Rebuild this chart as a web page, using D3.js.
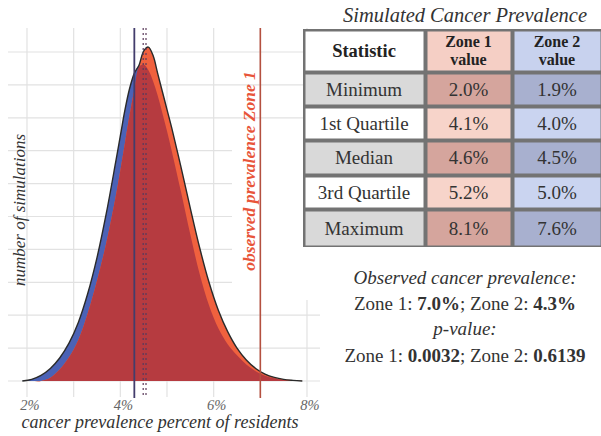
<!DOCTYPE html>
<html><head><meta charset="utf-8">
<script src="https://cdn.jsdelivr.net/npm/d3@7"></script>
<style>
html,body{margin:0;padding:0;background:#fff;}
svg{display:block;font-family:"Liberation Serif","Times New Roman","DejaVu Serif",serif;}
</style></head>
<body><svg id="c" width="601" height="436"></svg>
<script>
// ---------- data ----------
const prevalence = [1.9,2.1,2.3,2.5,2.7,2.9,3.1,3.3,3.5,3.7,3.9,4.0,4.1,4.2,4.3,4.4,4.5,4.6,4.7,4.8,4.9,5.0,5.1,5.3,5.5,5.7,5.9,6.1,6.3,6.5,6.7,6.9,7.1,7.3,7.5,7.7,7.9];
const zone2Counts = [0,5,17,38,70,115,178,265,375,510,665,745,825,890,935,960,962,945,912,868,815,760,700,575,445,325,230,160,112,78,50,30,16,8,3,1,0];
const zone1Counts = [0,0,0,10,35,72,125,205,305,420,560,640,725,810,885,955,1003,1015,990,935,880,825,770,650,525,405,300,215,150,100,64,38,21,11,5,2,0];
const observedPrevalence = {zone1: 7.0, zone2: 4.3};
const simulatedCentres = [4.49, 4.55];
const xGrid = [2,3,4,5,6,7,8];
const xTickValues = [2,4,6,8];
const yGrid = [0,100,200,300,400,500,600,700,800,900,1000];
const statNames = ["Minimum","1st Quartile","Median","3rd Quartile","Maximum"];
const zone1Stats = ["2.0%","4.1%","4.6%","5.2%","8.1%"];
const zone2Stats = ["1.9%","4.0%","4.5%","5.0%","7.6%"];
const pValues = ["0.0032","0.6139"];

// ---------- chart ----------
const svg = d3.select("#c");
const x = d3.scaleLinear().domain([2,8]).range([27,307]);
const y = d3.scaleLinear().domain([0,1073]).range([381,28]);

const grid = svg.append("g");
grid.selectAll("line.h").data(yGrid).join("line")
  .attr("x1",8).attr("x2",320).attr("y1",d=>y(d)).attr("y2",d=>y(d))
  .attr("stroke","#e2e2e2").attr("stroke-width",1.2);
grid.selectAll("line.v").data(xGrid).join("line")
  .attr("x1",d=>x(d)).attr("x2",d=>x(d)).attr("y1",28).attr("y2",397)
  .attr("stroke","#e2e2e2").attr("stroke-width",1.2);

// white background behind the rotated label
svg.append("rect").attr("x",232).attr("y",130).attr("width",90).attr("height",170).attr("fill","#fff");

const pts = prevalence.map((p,i)=>({p, z1:zone1Counts[i], z2:zone2Counts[i]}));
const crv = d3.curveCatmullRom.alpha(0.5);
const area = f => d3.area().x(d=>x(d.p)).y0(y(0)).y1(d=>y(Math.max(0,f(d)))).curve(crv);
svg.append("path").datum(pts).attr("d",area(d=>d.z2)).attr("fill","#4b62b6");
svg.append("path").datum(pts).attr("d",area(d=>d.z1)).attr("fill","#f0613e");
svg.append("path").datum(pts).attr("d",area(d=>Math.min(d.z1,d.z2))).attr("fill","#b63b40");
svg.append("path").datum(pts)
  .attr("d",d3.line().x(d=>x(d.p)).y(d=>y(Math.max(d.z1,d.z2))).curve(crv))
  .attr("fill","none").attr("stroke","#2a2a2a").attr("stroke-width",1.4);

// observed / centre lines
svg.append("line").attr("x1",x(observedPrevalence.zone2)).attr("x2",x(observedPrevalence.zone2))
  .attr("y1",28).attr("y2",398).attr("stroke","#433d6c").attr("stroke-width",1.8);
svg.selectAll("line.m").data(simulatedCentres).join("line")
  .attr("x1",d=>x(d)).attr("x2",d=>x(d)).attr("y1",28).attr("y2",398)
  .attr("stroke","#5a3a5a").attr("stroke-width",1.2).attr("stroke-dasharray","2,3");
svg.append("line").attr("x1",x(observedPrevalence.zone1)).attr("x2",x(observedPrevalence.zone1))
  .attr("y1",28).attr("y2",398).attr("stroke","#b4503f").attr("stroke-width",1.6);

svg.append("text").attr("transform",`translate(${x(observedPrevalence.zone1)-5},171) rotate(-90)`)
  .attr("text-anchor","middle").attr("font-style","italic").attr("font-weight","bold")
  .attr("font-size",17.5).attr("fill","#e8553a").text("observed prevalence Zone 1");

// axes text
svg.selectAll("text.xt").data(xTickValues).join("text")
  .attr("x",d=>x(d)+3).attr("y",410).attr("text-anchor","middle")
  .attr("font-style","italic").attr("font-size",14.5).attr("fill","#666").text(d=>d+"%");
svg.append("text").attr("x",160).attr("y",428).attr("text-anchor","middle")
  .attr("font-style","italic").attr("font-size",18).attr("fill","#333")
  .text("cancer prevalence percent of residents");
svg.append("text").attr("transform","translate(25,210) rotate(-90)").attr("text-anchor","middle")
  .attr("font-style","italic").attr("font-size",17).attr("fill","#333").text("number of simulations");

// ---------- table ----------
const tx = 465;
svg.append("text").attr("x",tx).attr("y",22).attr("text-anchor","middle").attr("font-style","italic")
  .attr("font-size",20.5).attr("fill","#333").text("Simulated Cancer Prevalence");
const colB = [303,425,512,602];
const rowB = [29,72,106,140,175,209,247];
svg.append("rect").attr("x",colB[0]).attr("y",rowB[0]).attr("width",colB[3]-colB[0]).attr("height",rowB[6]-rowB[0]).attr("fill","#737373");
const fills = {
  head:["#ffffff","#f5cfc5","#c8d2ee"],
  dark:["#d9d9d9","#d5a59d","#a8b0cf"],
  light:["#ffffff","#f7d4ca","#cad4f0"]
};
for(let r=0;r<6;r++){
  const f = r===0?fills.head:(r%2===1?fills.dark:fills.light);
  for(let c=0;c<3;c++){
    svg.append("rect").attr("x",colB[c]+2.5).attr("y",rowB[r]+2.5)
      .attr("width",colB[c+1]-colB[c]-4).attr("height",rowB[r+1]-rowB[r]-4).attr("fill",f[c]);
  }
}
const cx = c=>(colB[c]+colB[c+1])/2;
svg.append("text").attr("x",cx(0)).attr("y",57).attr("text-anchor","middle").attr("font-weight","bold").attr("font-size",18.5).attr("fill","#222").text("Statistic");
[["Zone 1","value"],["Zone 2","value"]].forEach((t,i)=>{
  svg.append("text").attr("x",cx(i+1)).attr("y",47).attr("text-anchor","middle").attr("font-weight","bold").attr("font-size",16).attr("fill","#222").text(t[0]);
  svg.append("text").attr("x",cx(i+1)).attr("y",64.8).attr("text-anchor","middle").attr("font-weight","bold").attr("font-size",16).attr("fill","#222").text(t[1]);
});
statNames.forEach((s,i)=>{
  const yy=(rowB[i+1]+rowB[i+2])/2+6.5;
  [s,zone1Stats[i],zone2Stats[i]].forEach((t,c)=>{
    svg.append("text").attr("x",cx(c)).attr("y",yy).attr("text-anchor","middle").attr("font-size",19).attr("fill","#333").text(t);
  });
});

// ---------- notes ----------
const note = svg.append("g").attr("font-size",19).attr("fill","#333").attr("text-anchor","middle");
note.append("text").attr("x",tx).attr("y",284).attr("font-style","italic").text("Observed cancer prevalence:");
const l2 = note.append("text").attr("x",tx).attr("y",310);
l2.append("tspan").text("Zone 1: ");
l2.append("tspan").attr("font-weight","bold").text(observedPrevalence.zone1.toFixed(1)+"%");
l2.append("tspan").text("; Zone 2: ");
l2.append("tspan").attr("font-weight","bold").text(observedPrevalence.zone2.toFixed(1)+"%");
note.append("text").attr("x",tx).attr("y",335).attr("font-style","italic").text("p-value:");
const l4 = note.append("text").attr("x",tx).attr("y",362);
l4.append("tspan").text("Zone 1: ");
l4.append("tspan").attr("font-weight","bold").text(pValues[0]);
l4.append("tspan").text("; Zone 2: ");
l4.append("tspan").attr("font-weight","bold").text(pValues[1]);
</script></body></html>
